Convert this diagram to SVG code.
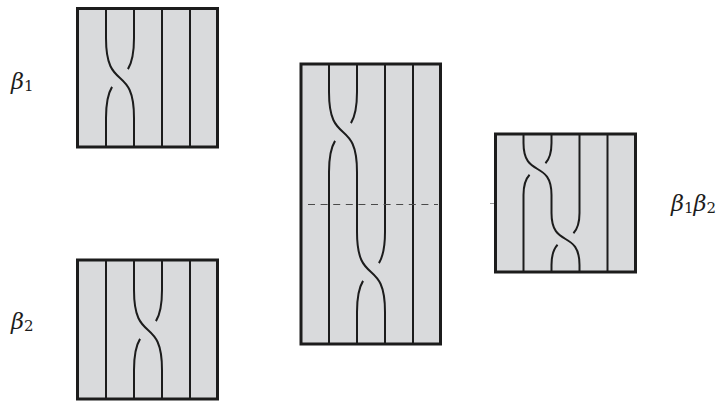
<svg xmlns="http://www.w3.org/2000/svg" width="723" height="401" viewBox="0 0 723 401">
<style>
.panel{fill:#d9dadc;stroke:none}
.frame{fill:none;stroke:#1c1c1c;stroke-width:3}
.strand{fill:none;stroke:#1c1c1c;stroke-width:2;stroke-linecap:butt}
.dash{fill:none;stroke:#4a4a4a;stroke-width:1.2;stroke-dasharray:7 5.6}
.lbl{font-family:"DejaVu Serif","Liberation Serif",serif;font-style:italic;font-size:22.5px;fill:#1c1c1c}
.sub{font-style:normal;font-size:15px}
</style>
<rect width="723" height="401" fill="#ffffff"/>

<g id="beta1">
<rect class="panel" x="77.5" y="8.5" width="140" height="138.5"/>
<path class="strand" d="M106,8.5 V38 C106,93 134,63 134,118 V147"/>
<path class="strand" d="M134,8.5 V38 C134,54.5 131.48,63.35 127.95,69.14 M112.05,86.86 C108.52,92.65 106,101.5 106,118 V147"/>
<path class="strand" d="M162,8.5 V147 M190,8.5 V147"/>
<rect class="frame" x="77.5" y="8.5" width="140" height="138.5"/>
</g>

<g id="beta2">
<rect class="panel" x="77.5" y="260" width="140" height="139"/>
<path class="strand" d="M134,260 V290 C134,345 162,315 162,370 V399"/>
<path class="strand" d="M162,260 V290 C162,306.5 159.48,315.35 155.95,321.14 M140.05,338.86 C136.52,344.65 134,353.5 134,370 V399"/>
<path class="strand" d="M106,260 V399 M190,260 V399"/>
<rect class="frame" x="77.5" y="260" width="140" height="139"/>
</g>

<g id="stacked">
<rect class="panel" x="301" y="64" width="139.5" height="280"/>
<path class="strand" d="M329,64 V92 C329,147 357,117 357,172 V232 C357,287 385,257 385,312 V344"/>
<path class="strand" d="M357,64 V92 C357,108.5 354.48,117.35 350.95,123.14 M335.05,140.86 C331.52,146.65 329,155.5 329,172 V344"/>
<path class="strand" d="M385,64 V232 C385,248.5 382.48,257.35 378.95,263.14 M363.05,280.86 C359.52,286.65 357,295.5 357,312 V344"/>
<path class="strand" d="M413,64 V344"/>
<line class="dash" x1="308" y1="204.5" x2="438" y2="204.5"/>
<rect class="frame" x="301" y="64" width="139.5" height="280"/>
</g>

<g id="product">
<line x1="490" y1="203.5" x2="495" y2="203.5" stroke="#9a9a9a" stroke-width="1"/>
<rect class="panel" x="495.5" y="134" width="140" height="138"/>
<path class="strand" d="M523.5,134 V143 C523.5,178.75 551.5,159.25 551.5,195 V213 C551.5,248.75 579.5,229.25 579.5,265 V272"/>
<path class="strand" d="M551.5,134 V143 C551.5,153.72 548.98,159.48 545.45,163.24 M529.55,174.76 C526.02,178.52 523.5,184.28 523.5,195 V272"/>
<path class="strand" d="M579.5,134 V213 C579.5,223.72 576.98,229.48 573.45,233.24 M557.55,244.76 C554.02,248.52 551.5,254.28 551.5,265 V272"/>
<path class="strand" d="M607.5,134 V272"/>
<rect class="frame" x="495.5" y="134" width="140" height="138"/>
</g>

<g id="labels">
<text class="lbl" x="11" y="89">β<tspan class="sub" dy="2">1</tspan></text>
<text class="lbl" x="11" y="329">β<tspan class="sub" dy="2">2</tspan></text>
<text class="lbl" x="671" y="211">β<tspan class="sub" dy="2">1</tspan><tspan dy="-2">β</tspan><tspan class="sub" dy="2">2</tspan></text>
</g>
</svg>
